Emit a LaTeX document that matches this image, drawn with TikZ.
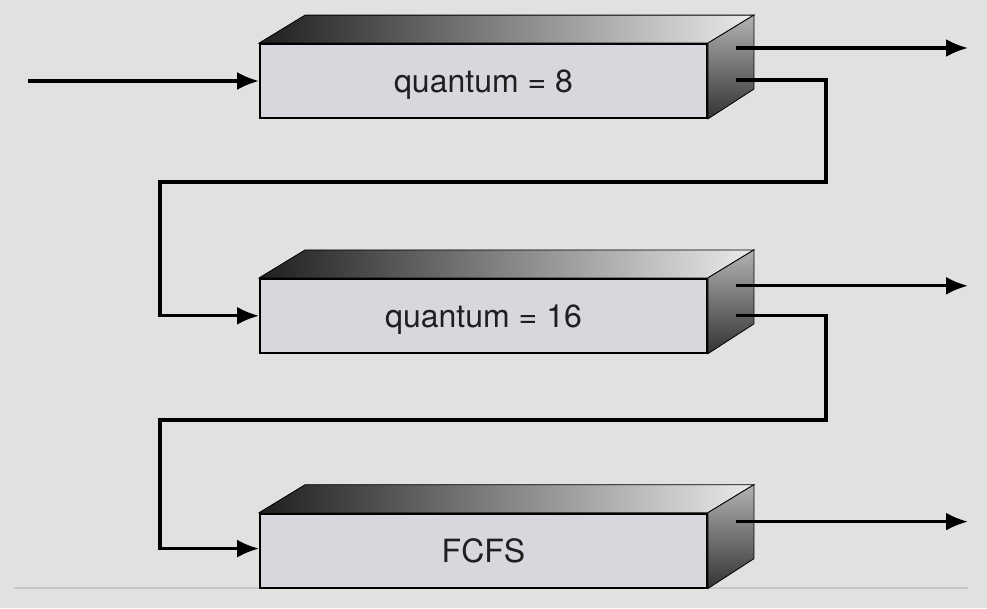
\documentclass[tikz,border=0pt]{standalone}
\usepackage{fontspec}
\setmainfont{TeX Gyre Heros}
\usepackage{tikz}
\usetikzlibrary{arrows.meta,positioning,calc}

\definecolor{bgcol}{HTML}{E2E1DF}
\definecolor{facecol}{HTML}{D9D6DD}
\definecolor{rulecol}{HTML}{C9C8C6}

\begin{document}
\begin{tikzpicture}[x=1pt, y=-1pt, node distance=159pt,
  queue/.style={draw, line width=1.8pt, fill=facecol, minimum width=447pt,
    minimum height=74pt, inner sep=0pt, text=black!88,
    text height=23pt, text depth=0pt,
    font=\fontsize{32}{36}\selectfont},
  topface/.style={draw, line width=0.8pt, left color=black!88, right color=black!8},
  sideface/.style={draw, line width=0.8pt, top color=black!30, bottom color=black!80},
  flow/.style={line width=3.2pt, -{Latex[length=22pt,width=18pt]}}]
  % Background
  \fill[bgcol] (0,0) rectangle (987,608);
  \useasboundingbox (0,0) rectangle (987,608);
  \draw[rulecol, line width=1.5pt] (14,588) -- (968,588);

  % Queues
  \node[queue] (q1) at (483.5,81) {quantum = 8};
  \node[queue, below=of q1] (q2) {quantum = 16};
  \node[queue, below=of q2] (q3) {FCFS};

  % 3D faces
  \draw[topface] (q1.north west) -- ++(46,-28) -- ($(q1.north east)+(46,-28)$) -- (q1.north east) -- cycle;
  \draw[sideface] (q1.north east) -- ++(46,-28) -- ++(0,74) -- (q1.south east) -- cycle;
  \draw[topface] (q2.north west) -- ++(46,-28) -- ($(q2.north east)+(46,-28)$) -- (q2.north east) -- cycle;
  \draw[sideface] (q2.north east) -- ++(46,-28) -- ++(0,74) -- (q2.south east) -- cycle;
  \draw[topface] (q3.north west) -- ++(46,-28) -- ($(q3.north east)+(46,-28)$) -- (q3.north east) -- cycle;
  \draw[sideface] (q3.north east) -- ++(46,-28) -- ++(0,74) -- (q3.south east) -- cycle;

  % Ports
  \coordinate (in1) at (28,81);
  \coordinate (q1done) at ($(q1.east)+(28,-33)$);
  \coordinate (q1down) at ($(q1.east)+(28,-1)$);
  \coordinate (q2done) at ($(q2.east)+(28,-30)$);
  \coordinate (q2down) at ($(q2.east)+(28,0)$);
  \coordinate (q3done) at ($(q3.east)+(28,-29)$);
  \coordinate (turn1) at (826,182);
  \coordinate (back1) at (160,182);
  \coordinate (turn2) at (826,420);
  \coordinate (back2) at (160,420);

  % Arrows
  \draw[flow] (in1) -- (q1.west);
  \draw[flow] (q1done) -- (968,0 |- q1done);
  \draw[flow] (q2done) -- (968,0 |- q2done);
  \draw[flow] (q3done) -- (968,0 |- q3done);
  \draw[flow] (q1down) -| (turn1) -- (back1) |- (q2.west);
  \draw[flow] (q2down) -| (turn2) -- (back2) |- ($(q3.west)+(0,-2)$);
\end{tikzpicture}
\end{document}
